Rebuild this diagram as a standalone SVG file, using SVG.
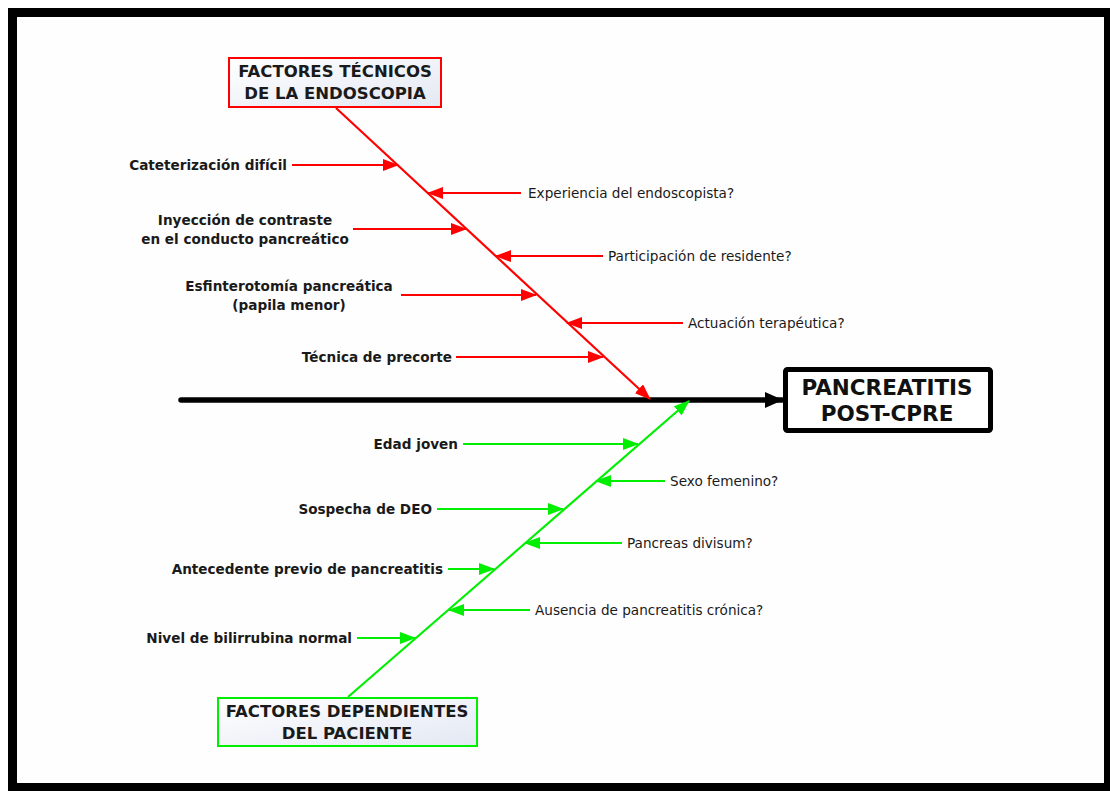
<svg xmlns="http://www.w3.org/2000/svg" width="1110" height="791" viewBox="0 0 1110 791">
<defs>
<linearGradient id="boxfill" x1="0" y1="0" x2="1" y2="1">
<stop offset="0" stop-color="#ffffff"/>
<stop offset="1" stop-color="#e3e8f3"/>
</linearGradient>
<marker id="ar" markerUnits="userSpaceOnUse" markerWidth="16" markerHeight="12" viewBox="0 0 16 12" refX="15" refY="6" orient="auto">
<path d="M0,0 L16,6 L0,12 Z" fill="#ff0000"/>
</marker>
<marker id="ag" markerUnits="userSpaceOnUse" markerWidth="16" markerHeight="12" viewBox="0 0 16 12" refX="15" refY="6" orient="auto">
<path d="M0,0 L16,6 L0,12 Z" fill="#00ee00"/>
</marker>
<marker id="ab" markerUnits="userSpaceOnUse" markerWidth="18" markerHeight="16" viewBox="0 0 18 16" refX="17" refY="8" orient="auto">
<path d="M0,0 L18,8 L0,16 Z" fill="#000"/>
</marker>
</defs>
<style>
.red{stroke:#ff0000;stroke-width:2.2;fill:none}
.grn{stroke:#00ee00;stroke-width:2.2;fill:none}
.lb{font-family:"DejaVu Sans",Verdana,sans-serif;font-weight:bold;font-size:13.6px;fill:#1a1a1a}
.lr{font-family:"DejaVu Sans",Verdana,sans-serif;font-size:13.6px;fill:#1a1a1a}
.tt{font-family:"DejaVu Sans",Verdana,sans-serif;font-weight:bold;font-size:16.5px;fill:#1a1a1a;text-anchor:middle}
.mt{font-family:"DejaVu Sans",Verdana,sans-serif;font-weight:bold;font-size:21.5px;fill:#111;text-anchor:middle}
</style>
<rect x="0" y="0" width="1110" height="791" fill="#fff"/>
<rect x="8" y="8" width="1102" height="783" fill="#000"/>
<rect x="17" y="17" width="1087" height="766" fill="#fefefe"/>

<g id="connectors">
<line x1="181" y1="400" x2="782" y2="400" stroke="#000" stroke-width="5.5" stroke-linecap="round" marker-end="url(#ab)"/>
<line class="red" x1="336" y1="108" x2="650" y2="399" marker-end="url(#ar)"/>
<line class="grn" x1="348" y1="697" x2="689" y2="401" marker-end="url(#ag)"/>
<line class="red" x1="292" y1="165" x2="398" y2="165" marker-end="url(#ar)"/>
<line class="red" x1="353" y1="229" x2="466" y2="229" marker-end="url(#ar)"/>
<line class="red" x1="401" y1="295" x2="536" y2="295" marker-end="url(#ar)"/>
<line class="red" x1="456" y1="357" x2="603" y2="357" marker-end="url(#ar)"/>
<line class="red" x1="521" y1="193" x2="428" y2="193" marker-end="url(#ar)"/>
<line class="red" x1="603" y1="256" x2="496" y2="256" marker-end="url(#ar)"/>
<line class="red" x1="683" y1="323" x2="567" y2="323" marker-end="url(#ar)"/>
<line class="grn" x1="463" y1="444" x2="638" y2="444" marker-end="url(#ag)"/>
<line class="grn" x1="437" y1="509" x2="563" y2="509" marker-end="url(#ag)"/>
<line class="grn" x1="448" y1="569" x2="494" y2="569" marker-end="url(#ag)"/>
<line class="grn" x1="357" y1="638" x2="415" y2="638" marker-end="url(#ag)"/>
<line class="grn" x1="665" y1="481" x2="596" y2="481" marker-end="url(#ag)"/>
<line class="grn" x1="622" y1="543" x2="525" y2="543" marker-end="url(#ag)"/>
<line class="grn" x1="530" y1="610" x2="449" y2="610" marker-end="url(#ag)"/>
</g>

<g id="effect">
<rect x="785.5" y="369.5" width="205" height="61" fill="#fff" stroke="#000" stroke-width="5" rx="2"/>
<text class="mt" x="887" y="395">PANCREATITIS</text>
<text class="mt" x="887" y="421">POST-CPRE</text>
</g>

<g id="cat-tecnicos">
<rect x="229" y="58" width="212" height="49" fill="url(#boxfill)" stroke="#ff0000" stroke-width="2"/>
<text class="tt" x="335" y="77">FACTORES TÉCNICOS</text>
<text class="tt" x="335" y="99">DE LA ENDOSCOPIA</text>
</g>

<g id="cat-paciente">
<rect x="218" y="698" width="259" height="48" fill="url(#boxfill)" stroke="#00ee00" stroke-width="2"/>
<text class="tt" x="347" y="717">FACTORES DEPENDIENTES</text>
<text class="tt" x="347" y="739">DEL PACIENTE</text>
</g>

<g id="n-cateterizacion"><text class="lb" x="287" y="170" text-anchor="end">Cateterización difícil</text></g>
<g id="n-inyeccion">
<text class="lb" x="245" y="225" text-anchor="middle">Inyección de contraste</text>
<text class="lb" x="245" y="244" text-anchor="middle">en el conducto pancreático</text>
</g>
<g id="n-esfinterotomia">
<text class="lb" x="289" y="291" text-anchor="middle">Esfinterotomía pancreática</text>
<text class="lb" x="289" y="310" text-anchor="middle">(papila menor)</text>
</g>
<g id="n-precorte"><text class="lb" x="452" y="362" text-anchor="end">Técnica de precorte</text></g>
<g id="n-experiencia"><text class="lr" x="528" y="198">Experiencia del endoscopista?</text></g>
<g id="n-residente"><text class="lr" x="608" y="261">Participación de residente?</text></g>
<g id="n-actuacion"><text class="lr" x="688" y="328">Actuación terapéutica?</text></g>

<g id="n-edad"><text class="lb" x="458" y="449" text-anchor="end">Edad joven</text></g>
<g id="n-deo"><text class="lb" x="432" y="514" text-anchor="end">Sospecha de DEO</text></g>
<g id="n-antecedente"><text class="lb" x="443" y="574" text-anchor="end">Antecedente previo de pancreatitis</text></g>
<g id="n-bilirrubina"><text class="lb" x="352" y="643" text-anchor="end">Nivel de bilirrubina normal</text></g>
<g id="n-sexo"><text class="lr" x="670" y="486">Sexo femenino?</text></g>
<g id="n-divisum"><text class="lr" x="627" y="548">Pancreas divisum?</text></g>
<g id="n-ausencia"><text class="lr" x="535" y="615">Ausencia de pancreatitis crónica?</text></g>
</svg>
